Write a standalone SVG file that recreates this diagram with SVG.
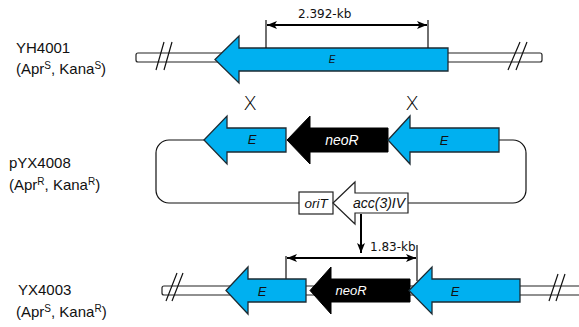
<svg xmlns="http://www.w3.org/2000/svg" width="579" height="327" viewBox="0 0 579 327">
  <style>
    .lbl { font-family: "Liberation Sans", Arial, sans-serif; font-size: 15px; fill: #111; }
    .dim { font-family: "DejaVu Sans", Verdana, sans-serif; font-size: 12px; fill: #111; }
    .gene { font-family: "Liberation Sans", Arial, sans-serif; font-style: italic; fill: #111; text-anchor: middle; }
    .xover { font-family: "DejaVu Sans", sans-serif; font-weight: 200; font-size: 20px; fill: #000; text-anchor: middle; }
    .bar { fill: #fff; stroke: #222; stroke-width: 1.2; }
    .brk { stroke: #111; stroke-width: 1.2; fill: none; }
    .blue { fill: #00b0f0; stroke: #1d2b33; stroke-width: 1.3; }
    .black { fill: #000; stroke: #000; stroke-width: 1; }
    .white { fill: #fff; stroke: #222; stroke-width: 1.2; }
    .line { fill: none; stroke: #111; stroke-width: 1.2; }
    .dimline { fill: none; stroke: #000; stroke-width: 2; }
  </style>
  <defs>
    <marker id="ah" viewBox="0 0 10 8" refX="10" refY="4" markerWidth="10" markerHeight="8" markerUnits="userSpaceOnUse" orient="auto-start-reverse">
      <path d="M0,0 L10,4 L0,8 L2.5,4 Z" fill="#000"/>
    </marker>
  </defs>

  <!-- strain labels -->
  <g id="label-YH4001">
    <text class="lbl" x="16" y="53">YH4001</text>
    <text class="lbl" x="16" y="74">(Apr<tspan dy="-5" font-size="10">S</tspan><tspan dy="5">, Kana</tspan><tspan dy="-5" font-size="10">S</tspan><tspan dy="5">)</tspan></text>
  </g>
  <g id="label-pYX4008">
    <text class="lbl" x="9" y="168">pYX4008</text>
    <text class="lbl" x="9" y="190">(Apr<tspan dy="-5" font-size="10">R</tspan><tspan dy="5">, Kana</tspan><tspan dy="-5" font-size="10">R</tspan><tspan dy="5">)</tspan></text>
  </g>
  <g id="label-YX4003">
    <text class="lbl" x="18" y="295">YX4003</text>
    <text class="lbl" x="16" y="317">(Apr<tspan dy="-5" font-size="10">S</tspan><tspan dy="5">, Kana</tspan><tspan dy="-5" font-size="10">R</tspan><tspan dy="5">)</tspan></text>
  </g>

  <!-- YH4001 chromosome -->
  <g id="chrom-YH4001">
    <rect class="bar" x="136" y="53" width="406" height="9" rx="2"/>
    <path class="brk" d="M164,42 L156,70 M172,42 L164,70"/>
    <path class="brk" d="M520,42 L508,70 M527,42 L516,70"/>
  </g>
  <g id="gene-E-top">
    <path class="blue" d="M215,59.5 L239,36 L239,48 L448,48 L448,71 L239,71 L239,83 Z"/>
    <text class="gene" x="332" y="63" font-size="10">E</text>
  </g>

  <!-- crossover marks -->
  <g id="cross-left"><text class="xover" x="250" y="110">X</text></g>
  <g id="cross-right"><text class="xover" x="412" y="110">X</text></g>

  <!-- pYX4008 plasmid backbone -->
  <g id="plasmid-backbone">
    <path class="line" d="M204,140 L169,140 A13,13 0 0 0 156,153 L156,190 A13,13 0 0 0 169,203 L299,203"/>
    <path class="line" d="M499,140 L513,140 A13,13 0 0 1 526,153 L526,190 A13,13 0 0 1 513,203 L408,203"/>
  </g>
  <g id="gene-E-left-plasmid">
    <path class="blue" d="M204,140 L227,116 L227,128 L286,128 L286,152 L227,152 L227,164 Z"/>
    <text class="gene" x="252" y="144" font-size="13">E</text>
  </g>
  <g id="gene-neoR-plasmid">
    <path class="black" d="M287,140 L310,116 L310,128 L388,128 L388,152 L310,152 L310,164 Z"/>
    <text class="gene" x="342" y="145" font-size="14" style="fill:#fff">neoR</text>
  </g>
  <g id="gene-E-right-plasmid">
    <path class="blue" d="M388,140 L410,116 L410,128 L499,128 L499,152 L410,152 L410,164 Z"/>
    <text class="gene" x="444" y="145" font-size="13">E</text>
  </g>
  <g id="oriT">
    <rect class="white" x="299" y="192" width="34" height="22"/>
    <text class="gene" x="316" y="208" font-size="13.5">oriT</text>
  </g>
  <g id="gene-acc3IV">
    <path class="white" d="M333,203 L355,182 L355,193 L408,193 L408,213 L355,213 L355,224 Z"/>
    <text class="gene" x="379" y="208" font-size="14">acc(3)IV</text>
  </g>

  <!-- YX4003 chromosome -->
  <g id="chrom-YX4003">
    <path class="bar" d="M582,286 L164,286 A2,2 0 0 0 162,288 L162,293 A2,2 0 0 0 164,295 L582,295"/>
    <path class="brk" d="M177,273 L166,301 M183,273 L172,301"/>
    <path class="brk" d="M558,274 L549,301 M565,274 L556,301"/>
  </g>

  <!-- connectors and dimension lines -->
  <g id="connectors">
    <path class="line" d="M266,20 L266,48 M428,20 L428,48"/>
    <path class="dimline" d="M267,25 L427,25" marker-start="url(#ah)" marker-end="url(#ah)"/>
    <path class="dimline" d="M361,214 L361,253" marker-end="url(#ah)"/>
    <path class="line" d="M286,256 L286,279 M417,245 L417,281"/>
    <path class="dimline" d="M287,258 L416,258" marker-start="url(#ah)" marker-end="url(#ah)"/>
  </g>
  <text class="dim" x="298" y="18">2.392-kb</text>
  <text class="dim" x="370" y="251">1.83-kb</text>

  <g id="gene-E-left-YX4003">
    <path class="blue" d="M226,290.5 L248,267 L248,279 L306,279 L306,302 L248,302 L248,314 Z"/>
    <text class="gene" x="262" y="296" font-size="13">E</text>
  </g>
  <g id="gene-neoR-YX4003">
    <path class="black" d="M310,290.5 L331,267 L331,279 L410,279 L410,302 L331,302 L331,314 Z"/>
    <text class="gene" x="351" y="295" font-size="13" style="fill:#fff">neoR</text>
  </g>
  <g id="gene-E-right-YX4003">
    <path class="blue" d="M409,290.5 L432,267 L432,279 L520,279 L520,302 L432,302 L432,314 Z"/>
    <text class="gene" x="455" y="296" font-size="13">E</text>
  </g>
</svg>
